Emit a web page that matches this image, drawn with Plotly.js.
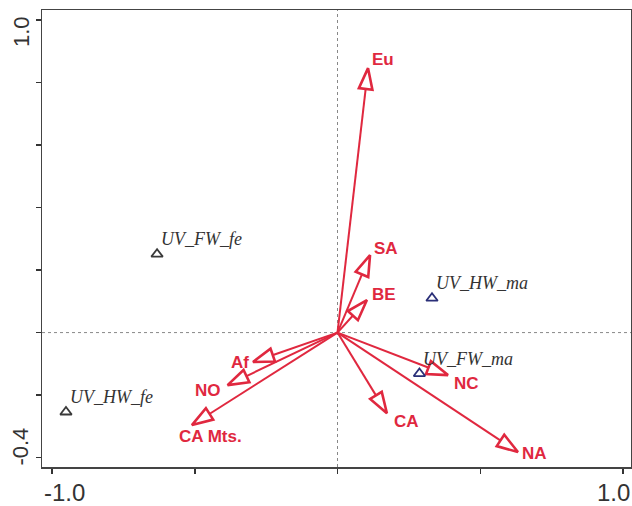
<!DOCTYPE html>
<html><head><meta charset="utf-8">
<script src="https://cdn.plot.ly/plotly-3.0.1.min.js"></script>
<style>html,body{margin:0;padding:0;background:#fff}#chart{width:632px;height:506px}</style>
</head><body><div id="chart"></div>
<script>
// ---- data ----
const envNames = ["Eu", "SA", "BE", "NC", "CA", "NA", "Af", "NO", "CA Mts."];
const envX = [0.107, 0.114, 0.103, 0.387, 0.173, 0.632, -0.296, -0.385, -0.510];
const envY = [0.846, 0.248, 0.104, -0.136, -0.258, -0.382, -0.094, -0.168, -0.296];

const sampleNames = ["UV_FW_fe", "UV_HW_ma", "UV_FW_ma", "UV_HW_fe"];
const sampleX = [-0.632, 0.331, 0.287, -0.951];
const sampleY = [0.251, 0.110, -0.131, -0.254];

const xTickVals = [-1.0, -0.5, 0, 0.5, 1.0];
const xTickText = ["-1.0", "", "", "", "1.0"];
const yTickVals = [-0.4, -0.2, 0, 0.2, 0.4, 0.6, 0.8, 1.0];
const yTickText = ["-0.4", "", "", "", "", "", "", "1.0"];

// ---- styles ----
const RED = "#e0283f";
const sampleColors = ["#3a3a3a", "#2a2f78", "#2a2f78", "#3a3a3a"];
// label placement relative to arrow tip (px): anchor, dx, dy (screen, down positive)
const envLabelPlace = [
  ["left", 2, -9], ["left", 2, -7], ["left", 3, -6], ["left", 4, 8], ["left", 5, 8],
  ["left", 2, 1], ["right", -2, 1], ["right", -5, 5], ["center", 19, 11]
];
// tick label shifts (px) for annotations
const xTickShift = {"-1.0": 13, "1.0": -10};
const yTickShift = {"-0.4": 11, "1.0": -12};

const traces = [];
envNames.forEach((n, i) => {
  traces.push({
    type: "scatter", mode: "lines+markers",
    x: [0, envX[i]], y: [0, envY[i]],
    line: {color: RED, width: 2},
    marker: {symbol: "arrow", size: 22, angleref: "previous", opacity: 1,
             color: "#ffffff", line: {color: RED, width: 2.6}},
    hoverinfo: "skip", showlegend: false, cliponaxis: false
  });
});
sampleNames.forEach((n, i) => {
  traces.push({
    type: "scatter", mode: "markers",
    x: [sampleX[i]], y: [sampleY[i]],
    marker: {symbol: "triangle-up", size: 10, color: "#ffffff",
             line: {color: sampleColors[i], width: 1.8}},
    hoverinfo: "skip", showlegend: false
  });
});

const annotations = [];
envNames.forEach((n, i) => {
  const p = envLabelPlace[i];
  annotations.push({
    x: envX[i], y: envY[i], xref: "x", yref: "y", text: n, showarrow: false,
    xanchor: p[0], yanchor: "middle", xshift: p[1], yshift: -p[2],
    font: {family: "Liberation Sans, Arial, sans-serif", size: 17, color: RED, weight: "bold"}
  });
});
sampleNames.forEach((n, i) => {
  annotations.push({
    x: sampleX[i], y: sampleY[i], xref: "x", yref: "y", text: n, showarrow: false,
    xanchor: "left", yanchor: "middle", xshift: 2, yshift: 15,
    font: {family: "Liberation Serif, Times New Roman, serif", size: 18, color: "#333", style: "italic"}
  });
});
xTickVals.forEach((v, i) => {
  if (!xTickText[i]) return;
  annotations.push({
    x: v, y: 0, xref: "x", yref: "paper", text: xTickText[i], showarrow: false,
    xanchor: "center", yanchor: "top", xshift: xTickShift[xTickText[i]] || 0, yshift: -10,
    font: {family: "Liberation Sans, Arial, sans-serif", size: 24, color: "#333"}
  });
});
yTickVals.forEach((v, i) => {
  if (!yTickText[i]) return;
  annotations.push({
    x: 0, y: v, xref: "paper", yref: "y", text: yTickText[i], showarrow: false,
    textangle: -90, xanchor: "center", yanchor: "middle",
    xshift: -21, yshift: yTickShift[yTickText[i]] || 0,
    font: {family: "Liberation Sans, Arial, sans-serif", size: 22, color: "#333"}
  });
});

const layout = {
  width: 632, height: 506,
  margin: {l: 42, r: 1, t: 10, b: 39, pad: 0},
  paper_bgcolor: "#fff", plot_bgcolor: "#fff",
  showlegend: false,
  xaxis: {range: [-1.035, 1.028], tickvals: xTickVals, ticktext: xTickVals.map(() => ""),
          ticks: "outside", ticklen: 5, tickwidth: 1.5, tickcolor: "#333",
          showgrid: false, zeroline: false, showline: true, mirror: true,
          linecolor: "#444", linewidth: 1.5, fixedrange: true},
  yaxis: {range: [-0.430, 1.032], tickvals: yTickVals, ticktext: yTickVals.map(() => ""),
          ticks: "outside", ticklen: 5, tickwidth: 1.5, tickcolor: "#333",
          showgrid: false, zeroline: false, showline: true, mirror: true,
          linecolor: "#444", linewidth: 1.5, fixedrange: true},
  shapes: [
    {type: "line", xref: "x", yref: "paper", x0: 0, x1: 0, y0: 0, y1: 1,
     line: {color: "#888", width: 1, dash: "dot"}, layer: "below"},
    {type: "line", xref: "paper", yref: "y", x0: 0, x1: 1, y0: 0, y1: 0,
     line: {color: "#888", width: 1, dash: "dot"}, layer: "below"}
  ],
  annotations: annotations
};

Plotly.newPlot("chart", traces, layout, {staticPlot: true, displayModeBar: false});
</script>
</body></html>
